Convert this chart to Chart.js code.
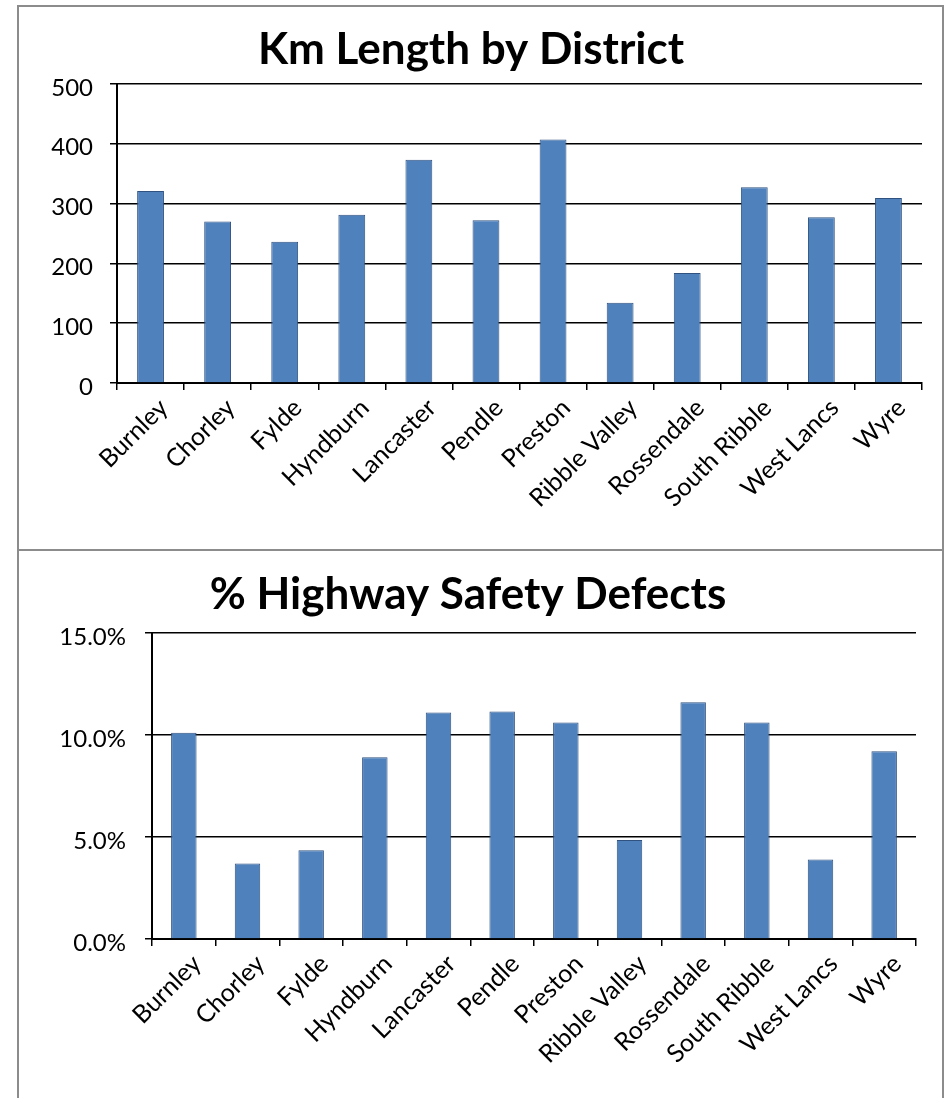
<!DOCTYPE html>
<html>
<head>
<meta charset="utf-8">
<title>Km Length by District / % Highway Safety Defects</title>
<script src="https://cdn.jsdelivr.net/npm/chart.js@4/dist/chart.umd.min.js"></script>
<style>
  body { margin: 0; background: #fff; width: 946px; height: 1098px; overflow: hidden; position: relative; }
  .caja { position: absolute; border: 2px solid #8c8c8c; box-sizing: border-box; }
  canvas { position: absolute; }
</style>
</head>
<body>
<div class="caja" style="left:17px; top:5px; width:927px; height:546px;"></div>
<div class="caja" style="left:17px; top:549px; width:927px; height:560px;"></div>
<canvas id="kmChart" style="left:20px; top:8px;" width="920" height="538"></canvas>
<canvas id="defectChart" style="left:20px; top:552px;" width="920" height="546"></canvas>
<script>
// datos
const distritos = ['Burnley', 'Chorley', 'Fylde', 'Hyndburn', 'Lancaster', 'Pendle',
  'Preston', 'Ribble Valley', 'Rossendale', 'South Ribble', 'West Lancs', 'Wyre'];
const kmLongitud = [321, 270, 236, 281, 373, 272, 407, 134, 184, 327, 277, 309];
const pctDefectos = [10.1, 3.7, 4.35, 8.9, 11.1, 11.15, 10.6, 4.85, 11.6, 10.6, 3.9, 9.2];
const ticksKm = [0, 100, 200, 300, 400, 500];
const ticksPct = [0, 5, 10, 15];

const fuente = 'Lato, "Open Sans", sans-serif';

const crearGrafica = (id, titulo, valores, ticks, formato, medidas) => {
  return new Chart(document.getElementById(id), {
    type: 'bar',
    data: {
      labels: distritos,
      datasets: [{
        data: valores,
        backgroundColor: '#4F81BD',
        borderColor: '#2f5280',
        borderWidth: 1,
        categoryPercentage: 1,
        barPercentage: 0.4,
      }],
    },
    options: {
      responsive: false,
      animation: false,
      layout: { padding: { left: 0, right: medidas.derecha, top: 0, bottom: 0 } },
      plugins: {
        legend: { display: false },
        tooltip: { enabled: false },
        title: {
          display: true,
          text: titulo,
          color: '#000',
          font: { family: fuente, size: 44, weight: 'bold' },
          padding: { top: medidas.tituloArriba, bottom: medidas.tituloAbajo },
        },
      },
      scales: {
        x: {
          grid: { display: true, drawOnChartArea: false, drawTicks: true, tickLength: 7, color: '#000', lineWidth: 1.5 },
          border: { display: true, color: '#000', width: 2 },
          ticks: {
            color: '#000',
            font: { family: fuente, size: 25 },
            minRotation: 45,
            maxRotation: 45,
            autoSkip: false,
            padding: 3,
            labelOffset: 13,
          },
          afterFit: (escala) => { escala.height = medidas.altoX; },
        },
        y: {
          min: ticks[0],
          max: ticks[ticks.length - 1],
          grid: { color: '#000', lineWidth: 1.5, tickLength: 7 },
          border: { display: true, color: '#000', width: 2 },
          ticks: {
            stepSize: ticks[1] - ticks[0],
            color: '#000',
            font: { family: fuente, size: 24 },
            padding: medidas.separacionY,
            labelOffset: 4,
            callback: formato,
          },
          afterFit: (escala) => { escala.width = medidas.anchoY; },
        },
      },
    },
  });
};

crearGrafica('kmChart', 'Km Length by District', kmLongitud, ticksKm,
  (v) => v, { derecha: 18, anchoY: 97, altoX: 163, tituloArriba: 15, tituloAbajo: 8, separacionY: 17 });

crearGrafica('defectChart', '% Highway Safety Defects', pctDefectos, ticksPct,
  (v) => v.toFixed(1) + '%', { derecha: 24, anchoY: 132, altoX: 159, tituloArriba: 16, tituloAbajo: 12, separacionY: 19 });
</script>
</body>
</html>
